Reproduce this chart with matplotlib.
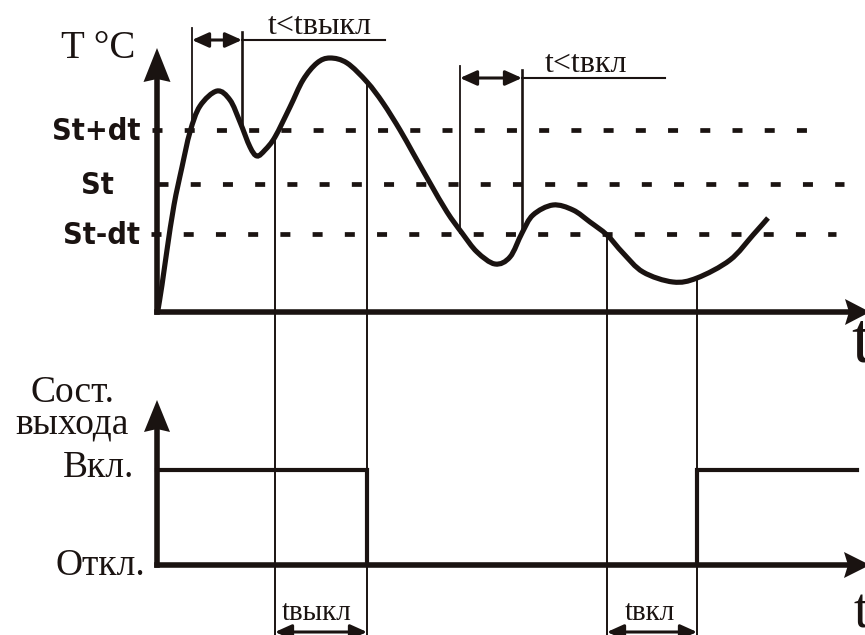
import numpy as np
import matplotlib.pyplot as plt
from matplotlib.path import Path
from matplotlib.patches import PathPatch, Polygon, FancyArrowPatch

plt.rcParams['lines.scale_dashes'] = False

# === Data (pixel coords, y grows downwards) ===
curve_x = [158, 162, 167, 174, 182, 190, 200, 217, 230, 240, 250, 257, 265,
           275, 290, 303, 317, 330, 347, 367, 383, 400, 413, 430, 447, 462,
           477, 495, 510, 522, 533, 553, 573, 590, 607, 623, 643, 673, 697,
           730, 753, 768]
curve_y = [310, 285, 250, 205, 167, 132, 106, 91, 100, 122, 147, 156, 150,
           137, 107, 80, 63, 58, 63, 82, 103, 130, 153, 183, 212, 233,
           252, 264, 257, 233, 215, 205, 210, 222, 235, 253, 272, 282, 278,
           260, 235, 218]

level_labels = ['St+dt', 'St', 'St-dt']
level_y = [130, 184, 234]
level_start = [152, 158, 151]
level_end = [807, 844, 836]

output_x = [157, 367, 367, 697, 697, 857]
output_y = [470, 470, 565, 565, 470, 470]

# vertical marker lines: x, top, bottom, width
top_marks = [(192, 28, 130, 1.3), (242, 32, 128, 1.9),
             (460, 66, 233, 1.3), (522, 70, 230, 1.9)]
drop_marks = [(275, 137, 635, 1.4), (367, 82, 635, 1.4),
              (607, 235, 635, 1.4), (697, 278, 635, 1.4)]

# double arrows: x0, x1, y
spans = [(192, 242, 40), (460, 522, 78), (275, 367, 632), (607, 697, 632)]
leaders = [(242, 385, 40), (522, 665, 78)]
span_text = [('t<tвыкл', 320, 34), ('t<tвкл', 586, 72),
             ('tвыкл', 317, 620), ('tвкл', 650, 620)]

W, H = 865, 635
TOP_AX_Y, BOT_AX_Y, AX_X = 312, 565, 157
SERIF = 'Liberation Serif'
ink = '#1a1311'


def smooth_path(xs, ys):
    pts = np.column_stack([xs, ys]).astype(float)
    verts, codes = [pts[0]], [Path.MOVETO]
    n = len(pts)
    for i in range(n - 1):
        p0, p1 = pts[max(i - 1, 0)], pts[i]
        p2, p3 = pts[i + 1], pts[min(i + 2, n - 1)]
        verts += [p1 + (p2 - p0) / 6, p2 - (p3 - p1) / 6, p2]
        codes += [Path.CURVE4] * 3
    return Path(verts, codes)


def head(ax, tip, base, half, notch, vertical):
    # filled arrow head with a slightly notched back
    if vertical:
        pts = [(AX_X, tip), (AX_X - half, base), (AX_X, base - notch), (AX_X + half, base)]
    else:
        y0 = tip[1]
        pts = [(tip[0], y0), (base, y0 - half), (base + notch, y0), (base, y0 + half)]
    ax.add_patch(Polygon(pts, closed=True, color=ink, lw=0))


fig = plt.figure(figsize=(8.65, 6.35), dpi=100)
ax = fig.add_axes([0, 0, 1, 1])
ax.set_xlim(0, W)
ax.set_ylim(H, 0)
ax.axis('off')

# dashed set-point levels
for y, x0, x1 in zip(level_y, level_start, level_end):
    ax.plot([x0, x1], [y, y], color=ink, lw=3.4, dashes=(7.2, 16.0),
            dash_capstyle='butt')

# marker lines
for x, y0, y1, lw in top_marks + drop_marks:
    ax.plot([x, x], [y0, y1], color=ink, lw=lw)

# output state
ax.plot(output_x, output_y, color=ink, lw=3.0, solid_joinstyle='miter')

# axes
for y_ax, top in [(TOP_AX_Y, 80), (BOT_AX_Y, 430)]:
    ax.plot([AX_X, AX_X], [y_ax, top], color=ink, lw=4.0, solid_capstyle='projecting')
    ax.plot([AX_X, 848], [y_ax, y_ax], color=ink, lw=4.0, solid_capstyle='projecting')
head(ax, 48, 82, 13.5, 3, True)
head(ax, 400, 432, 13, 3, True)
head(ax, (870, TOP_AX_Y), 845, 13, 4, False)
head(ax, (870, BOT_AX_Y), 844, 13, 4, False)

# temperature curve
ax.add_patch(PathPatch(smooth_path(curve_x, curve_y), fill=False, ec=ink,
                       lw=3.7, capstyle='butt'))

# span arrows
for x0, x1, y in spans:
    ax.add_patch(FancyArrowPatch((x0, y), (x1, y),
                                 arrowstyle='<|-|>,head_length=1.0,head_width=0.45',
                                 mutation_scale=10, color=ink, lw=2.2,
                                 shrinkA=0, shrinkB=0))
for x0, x1, y in leaders:
    ax.plot([x0, x1], [y, y], color=ink, lw=1.5)

for s, x, y in span_text:
    ax.text(x, y, s, ha='center', va='baseline', fontsize=23 if '<' in s else 21,
            family=SERIF, color=ink)

# level labels
for s, y in zip(level_labels, level_y):
    ax.text(140 if s != 'St' else 114, y + 1, s, ha='right', va='center',
            fontsize=22, fontweight='bold', family='DejaVu Sans',
            fontstretch='condensed', color=ink)

# axis titles
ax.text(98, 48, 'T °C', ha='center', va='center', fontsize=28, family=SERIF, color=ink)
ax.text(72, 393, 'Сост.', ha='center', va='center', fontsize=27, family=SERIF, color=ink)
ax.text(72, 424, 'выхода', ha='center', va='center', fontsize=27, family=SERIF, color=ink)
ax.text(134, 468, 'Вкл.', ha='right', va='center', fontsize=27, family=SERIF, color=ink)
ax.text(145, 566, 'Откл.', ha='right', va='center', fontsize=27, family=SERIF, color=ink)
ax.text(851, 362, 't', ha='left', va='baseline', fontsize=52, family=SERIF, color=ink)
ax.text(853, 628, 't', ha='left', va='baseline', fontsize=41, family=SERIF, color=ink)

fig.savefig('out.png', dpi=100)
